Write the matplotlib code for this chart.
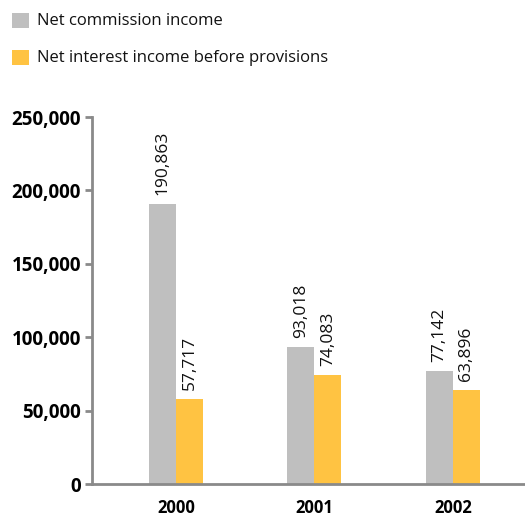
import matplotlib
matplotlib.use("Agg")
import matplotlib.pyplot as plt
from matplotlib.patches import Rectangle

years = ["2000", "2001", "2002"]
commission = [190863, 93018, 77142]
interest = [57717, 74083, 63896]
series_names = ["Net commission income", "Net interest income before provisions"]
yticks = [0, 50000, 100000, 150000, 200000, 250000]

GREY = "#bfbfbf"
GOLD = "#ffc342"
AXIS = "#8a8a8a"

plt.rcParams["font.family"] = ["Open Sans", "DejaVu Sans"]

fig = plt.figure(figsize=(5.25, 5.19), dpi=100)
ax = fig.add_axes([92 / 525, 1 - 484 / 519, 1 - 92 / 525, (484 - 117) / 519])

x = list(range(len(years)))
w = 0.195
xa = [i - w / 2 for i in x]
xb = [i + w / 2 for i in x]
ax.bar(xa, commission, width=w, color=GREY, linewidth=0)
ax.bar(xb, interest, width=w, color=GOLD, linewidth=0)

for xs, vals in ((xa, commission), (xb, interest)):
    for xi, v in zip(xs, vals):
        ax.annotate(f"{v:,}", (xi, v), xytext=(0, 6.5), textcoords="offset points",
                    rotation=90, ha="center", va="bottom", fontsize=12.5,
                    color="#111111")

ax.set_xlim(-0.606, 2.52)
ax.set_ylim(0, 250000)
ax.set_yticks(yticks)
ax.set_yticklabels([f"{t:,}" for t in yticks], fontsize=13.5, fontweight="bold")
ax.set_xticks(x)
ax.set_xticklabels(years, fontsize=12, fontweight="bold")
ax.tick_params(axis="y", length=5, width=2, color=AXIS, pad=3)
ax.tick_params(axis="x", length=0, pad=11)
for s in ("top", "right"):
    ax.spines[s].set_visible(False)
for s in ("left", "bottom"):
    ax.spines[s].set_color(AXIS)
    ax.spines[s].set_linewidth(2)

# legend drawn as swatches in figure pixel space
for i, (name, col) in enumerate(zip(series_names, (GREY, GOLD))):
    ytop = 13 + i * 37
    fig.patches.append(Rectangle((12 / 525, 1 - (ytop + 15) / 519), 17 / 525, 15 / 519,
                                 transform=fig.transFigure, color=col, lw=0))
    fig.text(37 / 525, 1 - (ytop + 8) / 519, name, fontsize=12, va="center",
             ha="left", color="#111111")

fig.savefig("out.png", dpi=100)
